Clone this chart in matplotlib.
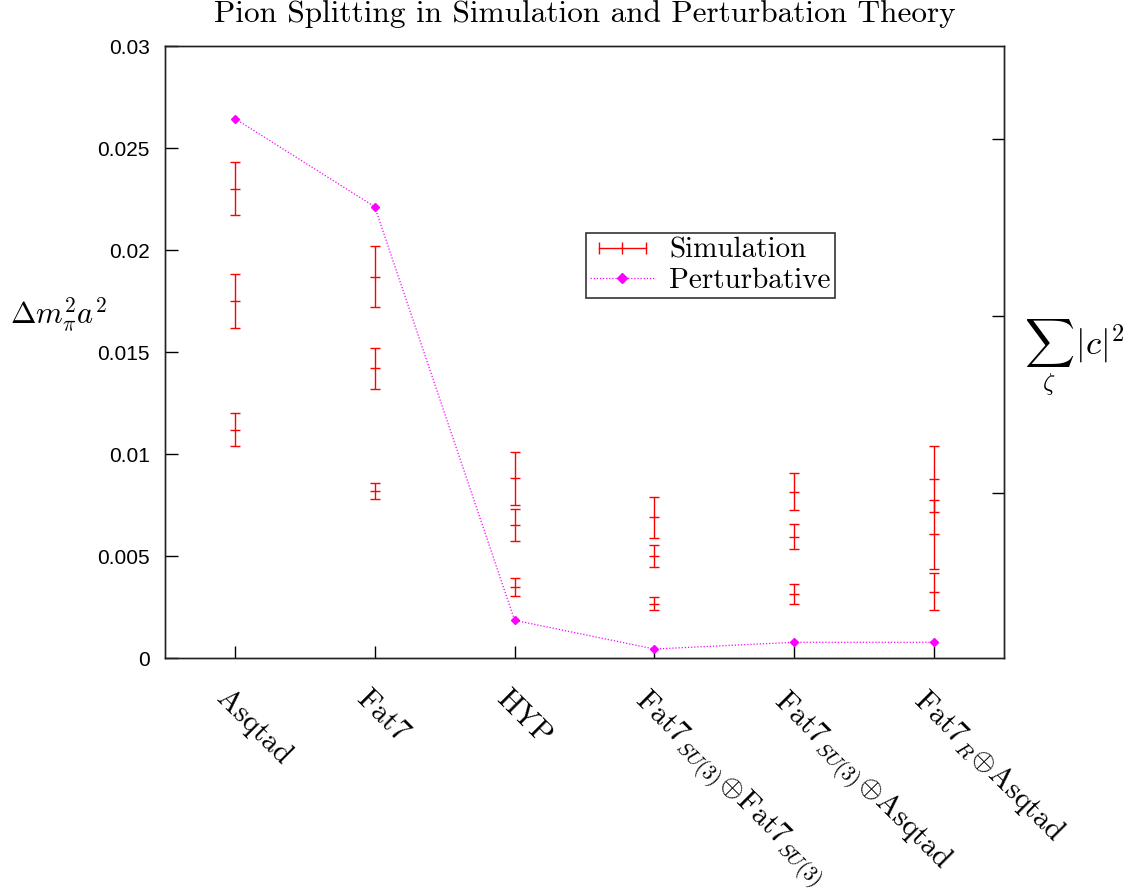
import matplotlib
matplotlib.use("Agg")
import matplotlib.pyplot as plt
from matplotlib.lines import Line2D
from matplotlib.legend_handler import HandlerLine2D
import numpy as np

plt.rcParams['mathtext.fontset'] = 'cm'
plt.rcParams['axes.unicode_minus'] = False

categories = ['Asqtad', 'Fat7', 'HYP',
              r'Fat7$_{SU(3)}\!\oplus\!$Fat7$_{SU(3)}$',
              r'Fat7$_{SU(3)}\!\oplus\!$Asqtad',
              r'Fat7$_{R}\!\oplus\!$Asqtad']

# Simulation points: category index, value, error
sim_cat = [0, 0, 0, 1, 1, 1, 2, 2, 2, 3, 3, 3, 4, 4, 4, 5, 5, 5]
sim_val = [0.0230, 0.0175, 0.0112,
           0.0187, 0.0142, 0.0082,
           0.0088, 0.0065, 0.0035,
           0.0069, 0.0050, 0.00266,
           0.00815, 0.00595, 0.00315,
           0.00877, 0.00606, 0.00325]
sim_err = [0.0013, 0.0013, 0.0008,
           0.0015, 0.0010, 0.0004,
           0.0013, 0.00078, 0.00044,
           0.0010, 0.00052, 0.00033,
           0.0009, 0.0006, 0.0005,
           0.0016, 0.0017, 0.0009]

# Perturbative values
pert_val = [0.02644, 0.02212, 0.00185, 0.00044, 0.00077, 0.00077]

yticks = [0, 0.005, 0.01, 0.015, 0.02, 0.025, 0.03]
ytick_labels = ['0', '0.005', '0.01', '0.015', '0.02', '0.025', '0.03']

RED = '#ff0000'
MAG = '#ff00ff'

fig = plt.figure(figsize=(11.29, 8.94), dpi=100)
ax = fig.add_axes([165/1129, 1-658/894, (1004-165)/1129, (658-46)/894])

xpos = np.arange(1, len(categories)+1)
sx = np.array(sim_cat) + 1

ax.errorbar(sx, sim_val, yerr=sim_err, fmt='_', color=RED, ecolor=RED,
            elinewidth=1.0, capsize=3.3, capthick=1.0, markersize=6.5, mew=1.0)
ax.plot(xpos, pert_val, color=MAG, linestyle=(0, (1, 1.5)), linewidth=0.9,
        marker='D', markersize=4.5)

ax.set_xlim(0.5, 6.5)
ax.set_ylim(0, 0.03)
ax.set_yticks(yticks)
ax.set_yticklabels(ytick_labels, fontfamily='Liberation Sans', fontsize=15)
ax.set_xticks(xpos)
ax.set_xticklabels([])
ax.tick_params(axis='x', direction='in', length=9, top=False, width=1)
ax.tick_params(axis='y', direction='in', length=9, right=False, width=1, pad=11)
for s in ax.spines.values():
    s.set_linewidth(1.0)
    s.set_color('#222222')

for x, lab in zip(xpos, categories):
    ax.text(x - 0.03, -0.0013, lab, rotation=-45, rotation_mode='anchor',
            ha='left', va='top', fontfamily='cmr10', fontsize=21.5)

ax2 = ax.twinx()
ax2.set_ylim(1 - 165/177, 3 + 93/177)
ax2.set_yticks([1, 2, 3])
ax2.set_yticklabels([])
ax2.tick_params(axis='y', direction='in', length=9, width=1)
for s in ax2.spines.values():
    s.set_linewidth(1.0)
    s.set_color('#222222')

ax.set_title('Pion Splitting in Simulation and Perturbation Theory',
             fontfamily='cmr10', fontsize=22.5, pad=17)

fig.text(10/1129, 1-315/894, r'$\Delta m_\pi^2 a^2$', fontsize=22, ha='left', va='center')
fig.text(1024/1129, 1-358/894, r'$\sum_{\zeta}\,|c|^2$', fontsize=25, ha='left', va='center')

h_sim = Line2D([], [], color=RED, linewidth=1.0, marker='|', markersize=8, mew=1.0)
h_pert = Line2D([], [], color=MAG, linestyle=(0, (1, 1.5)), linewidth=0.9,
                marker='D', markersize=5)
leg = ax.legend([h_sim, h_pert], ['Simulation', 'Perturbative'],
                handler_map={h_sim: HandlerLine2D(numpoints=3),
                             h_pert: HandlerLine2D(numpoints=1)},
                loc='upper left', bbox_to_anchor=((586-165)/839, 1-(233-46)/612),
                prop={'family': 'cmr10', 'size': 21}, frameon=True, fancybox=False,
                edgecolor='black', borderpad=0.15, labelspacing=0.12, handlelength=2.2,
                handletextpad=0.5, borderaxespad=0)
leg.get_frame().set_linewidth(1.2)

fig.savefig('out.png', dpi=100)
